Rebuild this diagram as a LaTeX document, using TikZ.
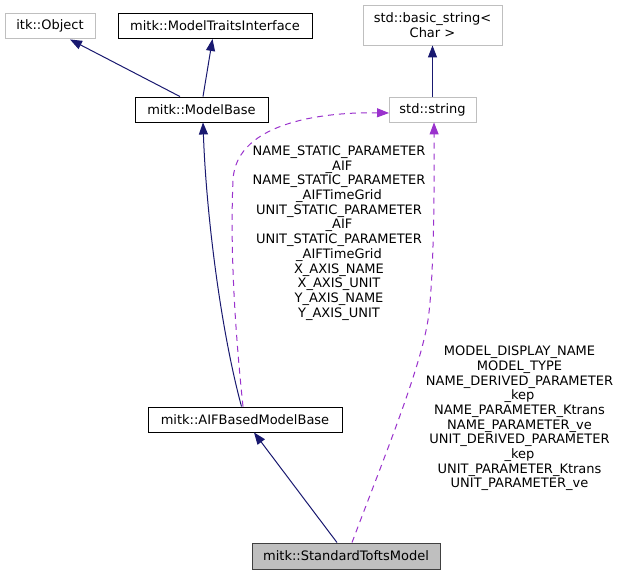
\documentclass[tikz,border=0pt]{standalone}
\usepackage{fontspec}
\setmainfont{DejaVu Sans}
\usetikzlibrary{arrows.meta,calc}
\definecolor{navyedge}{HTML}{191970}
\definecolor{purpleedge}{HTML}{9A32CD}
\definecolor{grayborder}{HTML}{BFBFBF}
\definecolor{curfill}{HTML}{BFBFBF}
\definecolor{curborder}{HTML}{404040}
\tikzset{
  cls/.style={draw=black, line width=0.9pt, fill=white, inner sep=0pt, align=center,
    font=\fontsize{13}{14.7}\selectfont},
  extcls/.style={cls, draw=grayborder},
  curcls/.style={cls, draw=curborder, fill=curfill},
  inherit/.style={draw=navyedge, line width=1pt, -{Triangle[length=12pt,width=9pt]}},
  usage/.style={draw=purpleedge, line width=1pt, dash pattern=on 6pt off 5pt,
    -{Triangle[length=12pt,width=9pt]}},
  lbl/.style={align=center, inner sep=0pt, font=\fontsize{13}{14.7}\selectfont}
}
\begin{document}
\begin{tikzpicture}[x=1pt,y=-1pt]
\useasboundingbox[fill=white] (0,0) rectangle (621,575);

\node[extcls, minimum width=90pt, minimum height=25pt] (obj) at (50,25.5) {itk::Object};
\node[cls, minimum width=194pt, minimum height=25pt] (mti) at (215,25.5) {mitk::ModelTraitsInterface};
\node[cls, minimum width=133pt, minimum height=25pt] (mb) at (201.5,109.5) {mitk::ModelBase};
\node[extcls, minimum width=139pt, minimum height=40pt] (bs) at (432.5,25) {std::basic\_string<\\Char >};
\node[extcls, minimum width=87pt, minimum height=25pt] (ss) at (432.5,109.5) {std::string};
\node[cls, minimum width=194pt, minimum height=25pt] (aif) at (245,419.5) {mitk::AIFBasedModelBase};
\node[curcls, minimum width=188pt, minimum height=26pt] (stm) at (346,556) {mitk::StandardToftsModel};

% inheritance
\draw[inherit] ($(mb.north)+(-21.5,0)$) -- ($(obj.south)+(20,1)$);
\draw[inherit] ($(mb.north)+(1.5,0)$) -- ($(mti.south)+(-2.5,0.5)$);
\draw[inherit] (ss.north) -- (bs.south);
\draw[inherit] ($(aif.north)+(-3.5,0)$) .. controls (220,327) and (206,210) .. ($(mb.south)+(1.5,0)$);
\draw[inherit] ($(stm.north)+(-9,0)$) -- ($(aif.south)+(9,0)$);

% usage
\draw[usage] ($(aif.north)+(-2,0)$) .. controls (235,330) and (230,250) .. (233,180)
  .. controls (236,120) and (330,112) .. ($(ss.west)+(0.5,3.5)$);
\draw[usage] ($(stm.north)+(6,0)$) .. controls (385,455) and (420,370) .. (428,320)
  .. controls (434,280) and (434.5,180) .. ($(ss.south)+(1.5,0)$);

\node[lbl] (l1) at (339,233) {NAME\_STATIC\_PARAMETER\\\_AIF\\NAME\_STATIC\_PARAMETER\\\_AIFTimeGrid\\UNIT\_STATIC\_PARAMETER\\\_AIF\\UNIT\_STATIC\_PARAMETER\\\_AIFTimeGrid\\X\_AXIS\_NAME\\X\_AXIS\_UNIT\\Y\_AXIS\_NAME\\Y\_AXIS\_UNIT};
\node[lbl] (l2) at (519.5,418.5) {MODEL\_DISPLAY\_NAME\\MODEL\_TYPE\\NAME\_DERIVED\_PARAMETER\\\_kep\\NAME\_PARAMETER\_Ktrans\\NAME\_PARAMETER\_ve\\UNIT\_DERIVED\_PARAMETER\\\_kep\\UNIT\_PARAMETER\_Ktrans\\UNIT\_PARAMETER\_ve};
\end{tikzpicture}
\end{document}
